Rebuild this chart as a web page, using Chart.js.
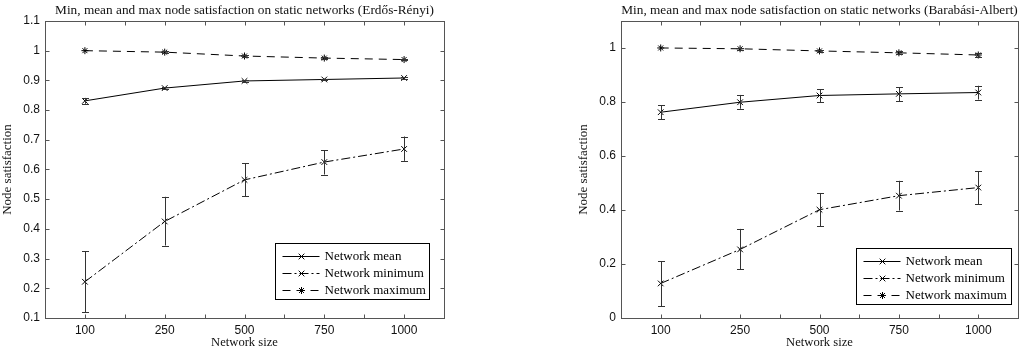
<!DOCTYPE html>
<html>
<head>
<meta charset="utf-8">
<script src="https://cdn.jsdelivr.net/npm/chart.js@4.4.1/dist/chart.umd.min.js"></script>
<style>
  body { margin: 0; background: #fff; width: 1024px; height: 352px; overflow: hidden; position: relative; }
  .box { position: absolute; top: 0; height: 352px; }
  #left { left: 0; width: 450px; }
  #right { left: 570px; width: 454px; }
</style>
</head>
<body>
<div class="box" id="left"><canvas id="erChart"></canvas></div>
<div class="box" id="right"><canvas id="baChart"></canvas></div>
<script>
const networkSizes = ['100', '250', '500', '750', '1000'];

// Erdős-Rényi
const erMean     = [0.831, 0.874, 0.898, 0.903, 0.908];
const erMeanLow  = [0.821, 0.871, 0.895, 0.900, 0.905];
const erMeanHigh = [0.841, 0.877, 0.901, 0.906, 0.911];
const erMin      = [0.222, 0.425, 0.565, 0.625, 0.669];
const erMinLow   = [0.120, 0.344, 0.510, 0.583, 0.629];
const erMinHigh  = [0.325, 0.508, 0.621, 0.665, 0.711];
const erMax      = [1.000, 0.995, 0.982, 0.975, 0.970];
const erMaxLow   = [1.000, 0.992, 0.978, 0.971, 0.967];
const erMaxHigh  = [1.000, 0.998, 0.986, 0.979, 0.973];

// Barabási-Albert
const baMean     = [0.762, 0.799, 0.824, 0.830, 0.835];
const baMeanLow  = [0.736, 0.775, 0.799, 0.803, 0.809];
const baMeanHigh = [0.788, 0.826, 0.848, 0.854, 0.860];
const baMin      = [0.128, 0.254, 0.401, 0.453, 0.483];
const baMinLow   = [0.043, 0.180, 0.339, 0.398, 0.422];
const baMinHigh  = [0.210, 0.330, 0.463, 0.508, 0.544];
const baMax      = [1.000, 0.997, 0.989, 0.982, 0.974];
const baMaxLow   = [1.000, 0.994, 0.984, 0.977, 0.967];
const baMaxHigh  = [1.000, 1.000, 0.994, 0.987, 0.981];

const seriesLabels = ['Network mean', 'Network minimum', 'Network maximum'];

const SERIF = "'Liberation Serif', 'DejaVu Serif', serif";
const SANS = "'Liberation Sans', Arial, sans-serif";

function makeDataset(label, values, low, high, dash, marker, radius){
  return {
    label: label,
    data: values.map((v, i) => ({ x: i + 1, y: v })),
    errLow: low,
    errHigh: high,
    borderColor: '#000',
    backgroundColor: '#000',
    borderWidth: 1,
    borderDash: dash,
    pointStyle: marker,
    pointRadius: radius,
    pointBorderColor: '#000',
    pointBorderWidth: 1,
    tension: 0,
    fill: false
  };
}

//error bars from errLow / errHigh through the y scale
const errorBars = {
  id: 'errorBars',
  afterDatasetsDraw(chart){
    const ctx = chart.ctx;
    const xs = chart.scales.x, ys = chart.scales.y;
    ctx.save();
    ctx.strokeStyle = '#333';
    ctx.lineWidth = 1;
    ctx.setLineDash([]);
    chart.data.datasets.forEach(ds => {
      ds.data.forEach((p, i) => {
        const x = Math.round(xs.getPixelForValue(p.x)) + 0.5;
        const yl = ys.getPixelForValue(ds.errLow[i]);
        const yh = ys.getPixelForValue(ds.errHigh[i]);
        if (Math.abs(yl - yh) < 0.5) return;
        ctx.beginPath();
        ctx.moveTo(x, yl); ctx.lineTo(x, yh);
        ctx.moveTo(x - 3.5, Math.round(yl) + 0.5); ctx.lineTo(x + 3.5, Math.round(yl) + 0.5);
        ctx.moveTo(x - 3.5, Math.round(yh) + 0.5); ctx.lineTo(x + 3.5, Math.round(yh) + 0.5);
        ctx.stroke();
      });
    });
    ctx.restore();
  }
};

//matlab style box with inward ticks on all sides
const frameBox = {
  id: 'frameBox',
  afterDraw(chart){
    const ctx = chart.ctx;
    const a = chart.chartArea;
    const L = Math.round(a.left) + 0.5, R = Math.round(a.right) + 0.5;
    const T = Math.round(a.top) + 0.5, B = Math.round(a.bottom) + 0.5;
    ctx.save();
    ctx.strokeStyle = '#555';
    ctx.lineWidth = 1;
    ctx.setLineDash([]);
    ctx.strokeRect(L, T, R - L, B - T);
    ctx.beginPath();
    chart.scales.x.ticks.forEach(t => {
      const x = Math.round(chart.scales.x.getPixelForValue(t.value)) + 0.5;
      ctx.moveTo(x, B); ctx.lineTo(x, B - 4);
      ctx.moveTo(x, T); ctx.lineTo(x, T + 4);
    });
    chart.scales.y.ticks.forEach(t => {
      const y = Math.round(chart.scales.y.getPixelForValue(t.value)) + 0.5;
      ctx.moveTo(L, y); ctx.lineTo(L + 4, y);
      ctx.moveTo(R, y); ctx.lineTo(R - 4, y);
    });
    ctx.stroke();
    ctx.restore();
  }
};

//legend box inside the plot, lower right
const legendBox = {
  id: 'legendBox',
  afterDraw(chart, args, opts){
    const ctx = chart.ctx;
    const a = chart.chartArea;
    const x = Math.round(a.right - opts.right - opts.width) + 0.5;
    const y = Math.round(a.bottom - opts.bottom - opts.height) + 0.5;
    ctx.save();
    ctx.fillStyle = '#fff';
    ctx.fillRect(x, y, opts.width, opts.height);
    ctx.strokeStyle = '#000';
    ctx.lineWidth = 1;
    ctx.strokeRect(x, y, opts.width, opts.height);
    chart.data.datasets.forEach((ds, i) => {
      const cy = Math.round(y + 12 + i * 17) + 0.5;
      ctx.strokeStyle = '#000';
      ctx.setLineDash(ds.borderDash || []);
      ctx.beginPath();
      ctx.moveTo(x + 7, cy); ctx.lineTo(x + 44, cy);
      ctx.stroke();
      ctx.setLineDash([]);
      ctx.fillStyle = '#000';
      Chart.helpers.drawPoint(ctx, { pointStyle: ds.pointStyle, radius: ds.pointRadius, borderWidth: 1 }, x + 26, cy);
      ctx.fillStyle = '#000';
      ctx.font = '13px ' + SERIF;
      ctx.textBaseline = 'middle';
      ctx.textAlign = 'left';
      ctx.fillText(ds.label, x + 49, cy);
    });
    ctx.restore();
  }
};

function makeChart(canvasId, title, mean, meanLow, meanHigh, min, minLow, minHigh, max, maxLow, maxHigh, yOpts, axisWidth, titlePad, padRight, legendPos){
  const ctx = document.getElementById(canvasId).getContext('2d');
  return new Chart(ctx, {
    type: 'line',
    data: {
      datasets: [
        makeDataset(seriesLabels[0], mean, meanLow, meanHigh, [], 'crossRot', 4),
        makeDataset(seriesLabels[1], min, minLow, minHigh, [9, 3, 2, 3], 'crossRot', 4),
        makeDataset(seriesLabels[2], max, maxLow, maxHigh, [8, 6], 'star', 3.5)
      ]
    },
    options: {
      responsive: true,
      maintainAspectRatio: false,
      animation: false,
      layout: { padding: { left: 0, right: padRight, top: 0, bottom: 0 } },
      scales: {
        x: {
          type: 'linear',
          min: 0.5,
          max: 5.5,
          grid: { display: false, drawTicks: false },
          border: { display: false },
          ticks: {
            stepSize: 0.5,
            autoSkip: false,
            maxRotation: 0,
            padding: 5,
            color: '#111',
            font: { family: SANS, size: 12 },
            callback: v => Number.isInteger(v) ? networkSizes[v - 1] : ''
          },
          title: {
            display: true,
            text: 'Network size',
            color: '#111',
            font: { family: SERIF, size: 12.6 },
            padding: { top: 0, bottom: 2 }
          },
          afterFit: s => { s.height = 34; }
        },
        y: {
          type: 'linear',
          min: yOpts.min,
          max: yOpts.max,
          grid: { display: false, drawTicks: false },
          border: { display: false },
          ticks: {
            stepSize: yOpts.step,
            padding: 5,
            color: '#111',
            font: { family: SANS, size: 12 },
            callback: v => String(parseFloat(v.toFixed(1)))
          },
          afterBuildTicks: s => { s.ticks = s.ticks.filter(t => t.value <= yOpts.lastTick + 1e-6); },
          title: {
            display: true,
            text: 'Node satisfaction',
            color: '#111',
            font: { family: SERIF, size: 13 },
            padding: { top: titlePad, bottom: 0 }
          },
          afterFit: s => { s.width = axisWidth; }
        }
      },
      plugins: {
        legend: { display: false },
        tooltip: { enabled: false },
        title: {
          display: true,
          fullSize: false,
          text: title,
          color: '#111',
          font: { family: SERIF, size: 13.3, weight: 'normal' },
          padding: { top: 3, bottom: 2 }
        },
        legendBox: legendPos
      }
    },
    plugins: [errorBars, frameBox, legendBox]
  });
}

makeChart('erChart', 'Min, mean and max node satisfaction on static networks (Erdős-Rényi)',
  erMean, erMeanLow, erMeanHigh, erMin, erMinLow, erMinHigh, erMax, erMaxLow, erMaxHigh,
  { min: 0.1, max: 1.1, step: 0.1, lastTick: 1.1 }, 45, 0, 6,
  { right: 15, bottom: 19, width: 154, height: 56 });

makeChart('baChart', 'Min, mean and max node satisfaction on static networks (Barabási-Albert)',
  baMean, baMeanLow, baMeanHigh, baMin, baMinLow, baMinHigh, baMax, baMaxLow, baMaxHigh,
  { min: 0, max: 1.1, step: 0.2, lastTick: 1.0 }, 51, 6, 6,
  { right: 7, bottom: 14, width: 155, height: 56 });
</script>
</body>
</html>
